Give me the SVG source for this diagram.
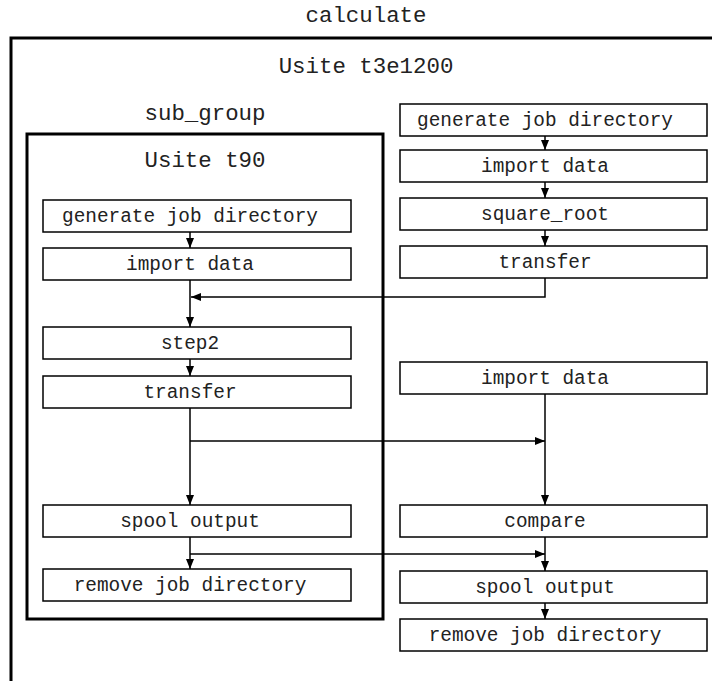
<svg xmlns="http://www.w3.org/2000/svg" width="712" height="681" viewBox="0 0 712 681">
<defs>
<style>
text{font-family:"Liberation Mono","DejaVu Sans Mono",monospace;fill:#222;text-anchor:middle}
.t{font-size:22.4px}
.n{font-size:19.4px}
.box{fill:#fff;stroke:#000;stroke-width:1.5}
.cl{fill:none;stroke:#000;stroke-width:3}
.e{fill:none;stroke:#000;stroke-width:1.5}
</style>
<marker id="ah" viewBox="0 0 10 8" refX="10" refY="4" markerWidth="10" markerHeight="8" markerUnits="userSpaceOnUse" orient="auto">
<path d="M0,0L10,4L0,8z" fill="#000"/>
</marker>
</defs>
<rect width="712" height="681" fill="#fff"/>
<text class="t" x="366" y="22">calculate</text>
<g id="calculate">
<rect class="cl" x="11" y="38" width="760" height="700"/>
<text class="t" x="366" y="73">Usite t3e1200</text>
</g>
<g id="sub_group">
<text class="t" x="205" y="120">sub_group</text>
<rect class="cl" x="27" y="134" width="356" height="485"/>
<text class="t" x="205" y="167">Usite t90</text>
</g>
<g id="connectors">
<path class="e" d="M190,232V248" marker-end="url(#ah)"/>
<path class="e" d="M190,280V327" marker-end="url(#ah)"/>
<path class="e" d="M545,278V297H191" marker-end="url(#ah)"/>
<path class="e" d="M190,359V376" marker-end="url(#ah)"/>
<path class="e" d="M190,408V505" marker-end="url(#ah)"/>
<path class="e" d="M190,441H545" marker-end="url(#ah)"/>
<path class="e" d="M545,394V505" marker-end="url(#ah)"/>
<path class="e" d="M190,537V569" marker-end="url(#ah)"/>
<path class="e" d="M190,554H545" marker-end="url(#ah)"/>
<path class="e" d="M545,537V571" marker-end="url(#ah)"/>
<path class="e" d="M545,603V619" marker-end="url(#ah)"/>
<path class="e" d="M545,136V150" marker-end="url(#ah)"/>
<path class="e" d="M545,182V198" marker-end="url(#ah)"/>
<path class="e" d="M545,230V246" marker-end="url(#ah)"/>
</g>
<g id="l_gen"><rect class="box" x="43" y="200" width="308" height="32"/><text class="n" x="190" y="222">generate job directory</text></g>
<g id="l_import"><rect class="box" x="43" y="248" width="308" height="32"/><text class="n" x="190" y="270">import data</text></g>
<g id="l_step2"><rect class="box" x="43" y="327" width="308" height="32"/><text class="n" x="190" y="349">step2</text></g>
<g id="l_transfer"><rect class="box" x="43" y="376" width="308" height="32"/><text class="n" x="190" y="398">transfer</text></g>
<g id="l_spool"><rect class="box" x="43" y="505" width="308" height="32"/><text class="n" x="190" y="527">spool output</text></g>
<g id="l_remove"><rect class="box" x="43" y="569" width="308" height="32"/><text class="n" x="190" y="591">remove job directory</text></g>
<g id="r_gen"><rect class="box" x="400" y="104" width="307" height="32"/><text class="n" x="545" y="126">generate job directory</text></g>
<g id="r_import"><rect class="box" x="400" y="150" width="307" height="32"/><text class="n" x="545" y="172">import data</text></g>
<g id="r_sqrt"><rect class="box" x="400" y="198" width="307" height="32"/><text class="n" x="545" y="220">square_root</text></g>
<g id="r_transfer"><rect class="box" x="400" y="246" width="307" height="32"/><text class="n" x="545" y="268">transfer</text></g>
<g id="r_import2"><rect class="box" x="400" y="362" width="307" height="32"/><text class="n" x="545" y="384">import data</text></g>
<g id="r_compare"><rect class="box" x="400" y="505" width="307" height="32"/><text class="n" x="545" y="527">compare</text></g>
<g id="r_spool"><rect class="box" x="400" y="571" width="307" height="32"/><text class="n" x="545" y="593">spool output</text></g>
<g id="r_remove"><rect class="box" x="400" y="619" width="307" height="32"/><text class="n" x="545" y="641">remove job directory</text></g>
</svg>
